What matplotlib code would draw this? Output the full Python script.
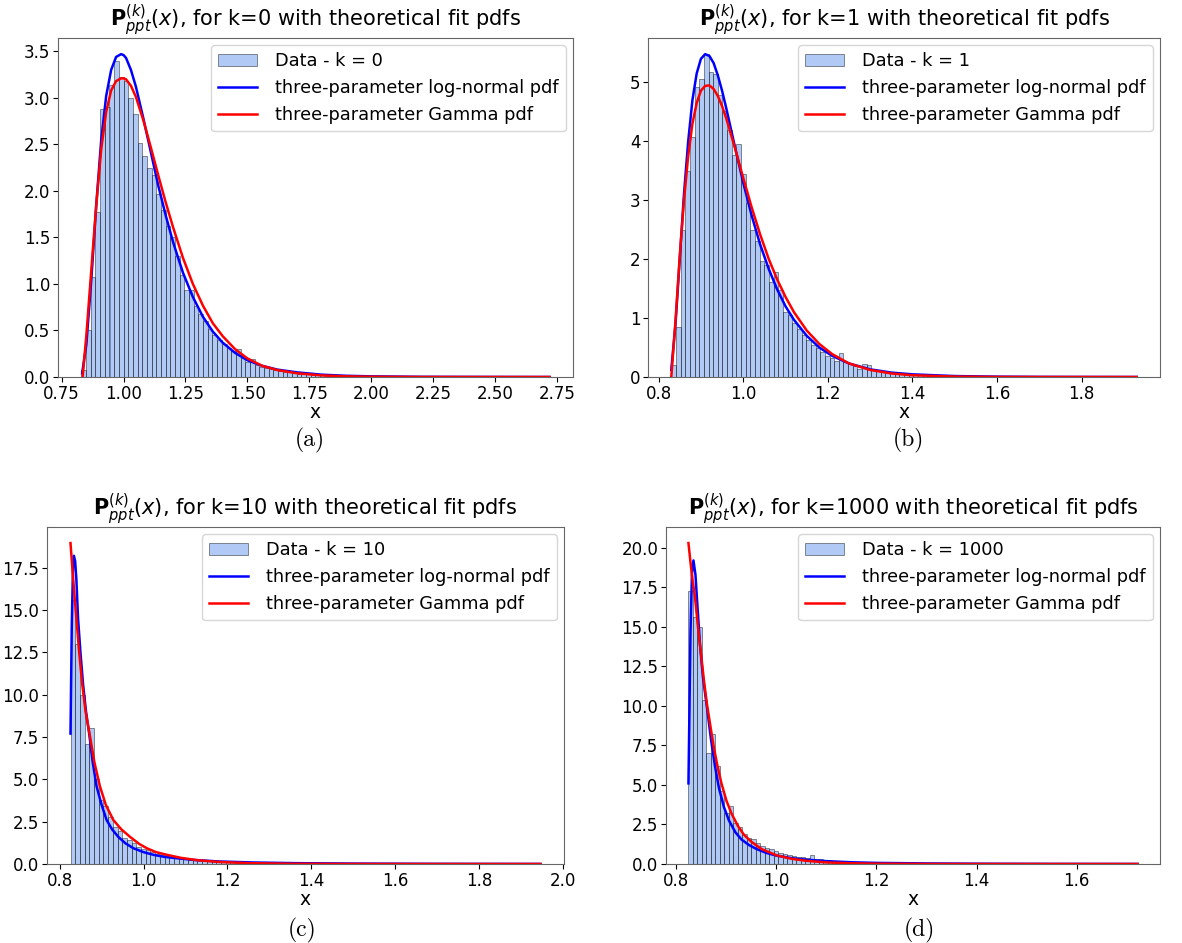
import numpy as np
import matplotlib
matplotlib.use('Agg')
import matplotlib.pyplot as plt

# k values of the four panels
k_values = [0, 1, 10, 1000]
captions = ['(a)', '(b)', '(c)', '(d)']

# histogram ranges (min, max of the data), 100 bins each
hist_range_a = (0.830, 2.720)
hist_range_b = (0.830, 1.930)
hist_range_c = (0.826, 1.946)
hist_range_d = (0.824, 1.722)

# bin heights (density)
hist_a = [0.08, 0.50, 1.07, 1.77, 2.88, 2.90, 3.14, 3.40, 3.22, 3.18,
          3.00, 2.83, 2.51, 2.38, 2.25, 2.17, 1.97, 1.80, 1.62, 1.50,
          1.30, 1.10, 0.93, 0.94, 0.76, 0.68, 0.60, 0.52, 0.45, 0.40,
          0.35, 0.31, 0.28, 0.30, 0.20, 0.16, 0.19, 0.13, 0.11, 0.10,
          0.085, 0.07, 0.06, 0.055, 0.05, 0.04, 0.035, 0.03, 0.028, 0.025,
          0.02, 0.018, 0.016, 0.015, 0.013, 0.012, 0.011, 0.010, 0.009, 0.008,
          0.008, 0.007, 0.006, 0.006, 0.005, 0.005, 0.004, 0.004, 0.004, 0.003,
          0.003, 0.003, 0.002, 0.002, 0.002, 0.002, 0.002, 0.001, 0.001, 0.001,
          0.001, 0.001, 0.001, 0.001, 0.0, 0.001, 0.0, 0.0, 0.0, 0.001,
          0.0, 0.0, 0.0, 0.0, 0.0, 0.0, 0.0, 0.0, 0.0, 0.001]
hist_b = [0.20, 0.85, 2.50, 3.50, 4.08, 4.92, 5.05, 5.48, 5.17, 5.15,
          4.78, 4.52, 4.20, 3.77, 3.95, 3.45, 2.95, 2.50, 2.30, 1.97,
          1.90, 1.62, 1.78, 1.48, 1.10, 1.05, 0.92, 0.82, 0.72, 0.62,
          0.55, 0.50, 0.42, 0.36, 0.32, 0.28, 0.40, 0.26, 0.22, 0.18,
          0.14, 0.22, 0.20, 0.12, 0.10, 0.09, 0.08, 0.07, 0.06, 0.05,
          0.045, 0.04, 0.035, 0.03, 0.03, 0.025, 0.02, 0.02, 0.018, 0.015,
          0.013, 0.012, 0.01, 0.009, 0.008, 0.007, 0.006, 0.006, 0.005, 0.005,
          0.004, 0.004, 0.003, 0.003, 0.003, 0.002, 0.002, 0.002, 0.002, 0.001,
          0.001, 0.001, 0.001, 0.001, 0.001, 0.0, 0.001, 0.0, 0.0, 0.001,
          0.0, 0.0, 0.0, 0.0, 0.0, 0.0, 0.0, 0.0, 0.0, 0.001]
hist_c = [15.6, 13.0, 10.0, 7.1, 8.05, 5.0, 3.8, 3.4, 2.8, 2.2,
          1.95, 1.55, 1.4, 1.25, 1.0, 0.88, 0.8, 0.7, 0.6, 0.55,
          0.48, 0.42, 0.38, 0.33, 0.30, 0.26, 0.24, 0.21, 0.19, 0.17,
          0.15, 0.13, 0.12, 0.11, 0.10, 0.09, 0.08, 0.075, 0.07, 0.06,
          0.055, 0.05, 0.045, 0.04, 0.038, 0.035, 0.03, 0.028, 0.025, 0.022,
          0.02, 0.018, 0.016, 0.015, 0.013, 0.012, 0.011, 0.01, 0.009, 0.008,
          0.007, 0.007, 0.006, 0.005, 0.005, 0.004, 0.004, 0.003, 0.003, 0.003,
          0.002, 0.002, 0.002, 0.002, 0.001, 0.001, 0.001, 0.001, 0.001, 0.001,
          0.001, 0.0, 0.001, 0.0, 0.0, 0.001, 0.0, 0.0, 0.0, 0.0,
          0.0, 0.0, 0.0, 0.0, 0.0, 0.0, 0.0, 0.0, 0.0, 0.001]
hist_d = [17.25, 15.6, 15.0, 10.4, 7.0, 8.2, 6.2, 4.6, 3.2, 3.7,
          2.6, 2.35, 1.9, 1.65, 1.6, 1.3, 1.15, 1.0, 0.92, 0.8,
          0.72, 0.62, 0.6, 0.5, 0.45, 0.42, 0.4, 0.55, 0.32, 0.3,
          0.28, 0.25, 0.2, 0.22, 0.18, 0.15, 0.13, 0.12, 0.10, 0.09,
          0.085, 0.075, 0.07, 0.06, 0.055, 0.05, 0.045, 0.04, 0.035, 0.032,
          0.03, 0.027, 0.024, 0.022, 0.02, 0.018, 0.016, 0.014, 0.013, 0.012,
          0.011, 0.01, 0.009, 0.008, 0.007, 0.007, 0.006, 0.005, 0.005, 0.004,
          0.004, 0.004, 0.003, 0.003, 0.003, 0.002, 0.002, 0.002, 0.002, 0.002,
          0.001, 0.001, 0.001, 0.001, 0.001, 0.001, 0.001, 0.0, 0.001, 0.0,
          0.0, 0.001, 0.0, 0.0, 0.0, 0.0, 0.0, 0.0, 0.0, 0.001]

# fitted pdf curves
lognorm_x_a = [0.833, 0.85, 0.87, 0.89, 0.91, 0.93, 0.95, 0.97, 0.99, 1.00, 1.01, 1.03, 1.05,
               1.08, 1.11, 1.14, 1.17, 1.20, 1.24, 1.28, 1.32, 1.36, 1.40, 1.45, 1.50, 1.56,
               1.62, 1.70, 1.80, 1.90, 2.00, 2.20, 2.40, 2.72]
lognorm_y_a = [0.04, 0.35, 1.05, 1.85, 2.55, 3.02, 3.30, 3.44, 3.47, 3.46, 3.43, 3.30, 3.12,
               2.78, 2.42, 2.06, 1.74, 1.45, 1.12, 0.86, 0.65, 0.49, 0.37, 0.26, 0.18, 0.12,
               0.08, 0.05, 0.025, 0.013, 0.007, 0.002, 0.001, 0.0]
gamma_x_a = [0.835, 0.85, 0.87, 0.89, 0.91, 0.93, 0.95, 0.97, 0.99, 1.00, 1.01, 1.03, 1.05,
             1.08, 1.11, 1.14, 1.17, 1.20, 1.24, 1.28, 1.32, 1.36, 1.40, 1.45, 1.50, 1.56,
             1.62, 1.70, 1.80, 1.90, 2.00, 2.20, 2.40, 2.72]
gamma_y_a = [0.0, 0.45, 1.15, 1.85, 2.45, 2.85, 3.08, 3.18, 3.21, 3.21, 3.20, 3.13, 3.01,
             2.76, 2.47, 2.17, 1.88, 1.61, 1.28, 1.00, 0.77, 0.58, 0.44, 0.30, 0.20, 0.12,
             0.075, 0.04, 0.017, 0.007, 0.003, 0.0005, 0.0001, 0.0]

lognorm_x_b = [0.83, 0.84, 0.85, 0.86, 0.87, 0.88, 0.89, 0.90, 0.91, 0.92, 0.93, 0.94, 0.95,
               0.96, 0.98, 1.00, 1.02, 1.04, 1.06, 1.08, 1.10, 1.12, 1.15, 1.18, 1.21, 1.25,
               1.30, 1.35, 1.40, 1.50, 1.60, 1.70, 1.80, 1.93]
lognorm_y_b = [0.12, 0.9, 2.0, 3.1, 4.0, 4.7, 5.15, 5.4, 5.48, 5.45, 5.33, 5.12, 4.86,
               4.56, 3.92, 3.30, 2.74, 2.25, 1.84, 1.49, 1.20, 0.97, 0.70, 0.50, 0.36, 0.23,
               0.13, 0.075, 0.045, 0.016, 0.006, 0.002, 0.001, 0.0]
gamma_x_b = lognorm_x_b
gamma_y_b = [0.0, 0.95, 2.05, 3.0, 3.75, 4.3, 4.65, 4.86, 4.94, 4.95, 4.89, 4.77, 4.60,
             4.39, 3.90, 3.38, 2.88, 2.42, 2.01, 1.66, 1.36, 1.10, 0.79, 0.56, 0.39, 0.23,
             0.12, 0.06, 0.03, 0.007, 0.0015, 0.0003, 0.0, 0.0]

lognorm_x_c = [0.826, 0.829, 0.832, 0.834, 0.837, 0.840, 0.844, 0.850, 0.856, 0.863, 0.871,
               0.879, 0.888, 0.90, 0.912, 0.925, 0.94, 0.957, 0.976, 1.0, 1.024, 1.05, 1.08,
               1.12, 1.18, 1.26, 1.36, 1.5, 1.7, 1.946]
lognorm_y_c = [7.7, 14.0, 17.6, 18.2, 17.9, 16.8, 14.5, 12.4, 10.6, 9.0, 7.6,
               6.0, 4.6, 3.5, 2.6, 2.05, 1.6, 1.22, 0.93, 0.70, 0.54, 0.42, 0.34,
               0.24, 0.15, 0.09, 0.05, 0.025, 0.01, 0.004]
gamma_x_c = [0.826, 0.830, 0.835, 0.840, 0.847, 0.854, 0.862, 0.872, 0.883, 0.896, 0.91,
             0.928, 0.947, 0.968, 0.99, 1.008, 1.03, 1.056, 1.09, 1.13, 1.18, 1.25, 1.35,
             1.5, 1.7, 1.946]
gamma_y_c = [18.95, 17.6, 16.0, 14.5, 12.4, 10.6, 9.0, 7.6, 6.0, 4.6, 3.5,
             2.6, 2.05, 1.6, 1.18, 0.93, 0.70, 0.54, 0.36, 0.22, 0.12, 0.05, 0.015,
             0.003, 0.0, 0.0]

lognorm_x_d = [0.824, 0.828, 0.831, 0.834, 0.838, 0.842, 0.847, 0.853, 0.861, 0.869, 0.877,
               0.885, 0.895, 0.905, 0.918, 0.93, 0.945, 0.96, 0.98, 1.0, 1.03, 1.06, 1.10,
               1.15, 1.2, 1.3, 1.4, 1.55, 1.722]
lognorm_y_d = [5.1, 14.5, 18.4, 19.2, 18.3, 16.3, 13.9, 11.8, 9.9, 7.9, 6.2,
               4.8, 3.6, 2.75, 2.0, 1.55, 1.2, 0.95, 0.7, 0.53, 0.37, 0.27, 0.18,
               0.11, 0.07, 0.035, 0.018, 0.008, 0.003]
gamma_x_d = [0.824, 0.828, 0.832, 0.837, 0.843, 0.849, 0.855, 0.861, 0.868, 0.874, 0.882,
             0.89, 0.90, 0.91, 0.923, 0.935, 0.95, 0.97, 1.0, 1.03, 1.06, 1.1, 1.15, 1.2,
             1.3, 1.4, 1.55, 1.722]
gamma_y_d = [20.3, 19.1, 18.0, 16.9, 15.0, 13.3, 11.6, 10.1, 8.7, 7.5, 6.2,
             5.1, 4.0, 3.2, 2.4, 1.85, 1.4, 0.95, 0.55, 0.33, 0.2, 0.1, 0.045, 0.02,
             0.004, 0.001, 0.0, 0.0]

panels = [
    (hist_range_a, hist_a, lognorm_x_a, lognorm_y_a, gamma_x_a, gamma_y_a),
    (hist_range_b, hist_b, lognorm_x_b, lognorm_y_b, gamma_x_b, gamma_y_b),
    (hist_range_c, hist_c, lognorm_x_c, lognorm_y_c, gamma_x_c, gamma_y_c),
    (hist_range_d, hist_d, lognorm_x_d, lognorm_y_d, gamma_x_d, gamma_y_d),
]

W, H = 1182, 943
fig = plt.figure(figsize=(W / 100, H / 100), dpi=100)

# axes boxes in pixels: left, right, top, bottom
boxes = [(58, 573, 38, 377), (648, 1160, 38, 377),
         (47, 564, 527, 864), (666, 1160, 527, 864)]
caption_pos = [(310, 440), (908, 440), (302, 930), (919, 930)]

for i, (k, cap, pdata) in enumerate(zip(k_values, captions, panels)):
    hrange, heights, lx, ly, gx, gy = pdata
    l, r, t, b = boxes[i]
    ax = fig.add_axes([l / W, 1 - b / H, (r - l) / W, (b - t) / H])

    edges = np.linspace(hrange[0], hrange[1], len(heights) + 1)
    centers = (edges[:-1] + edges[1:]) / 2
    ax.hist(centers, bins=edges, weights=heights, color='cornflowerblue',
            alpha=0.5, edgecolor='black', linewidth=0.6,
            label='Data - k = %d' % k)
    ax.plot(lx, ly, color='blue', lw=1.8, label='three-parameter log-normal pdf')
    ax.plot(gx, gy, color='red', lw=1.8, label='three-parameter Gamma pdf')

    ax.set_title(r'$\mathbf{P}_{ppt}^{(k)}(x)$, for k=%d with theoretical fit pdfs' % k,
                 fontsize=15, pad=4)
    ax.set_xlabel('x', fontsize=13.5, labelpad=0)
    ax.tick_params(labelsize=12, pad=2)
    for sp in ax.spines.values():
        sp.set_color('0.4')
    ax.legend(loc='upper right', fontsize=12.8, borderaxespad=0.4,
              handlelength=2.2, handletextpad=1.0, labelspacing=0.5)

    fig.text(caption_pos[i][0] / W, 1 - caption_pos[i][1] / H, cap,
             fontfamily='cmr10', fontsize=17, ha='center', va='center')

fig.savefig('out.png', dpi=100)
